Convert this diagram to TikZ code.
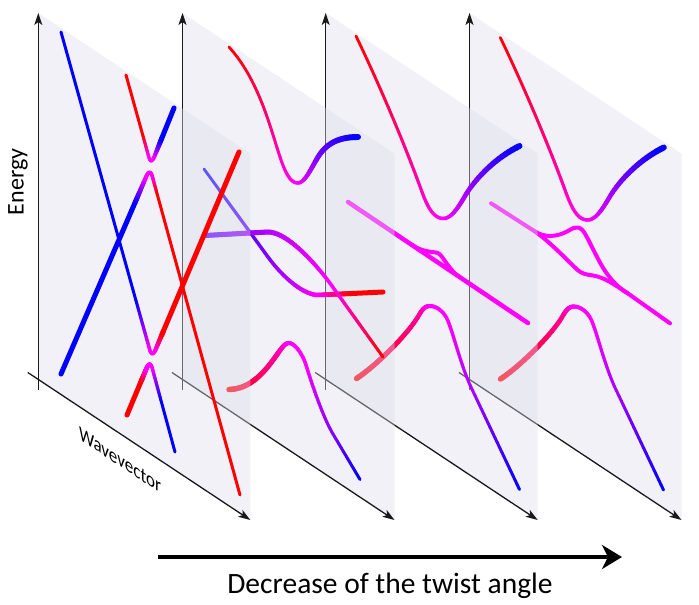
\documentclass[tikz,border=0pt]{standalone}
\usepackage{fontspec}
\setmainfont{Carlito}
\usetikzlibrary{arrows.meta,calc}
\definecolor{planeC}{RGB}{222,222,235}
\definecolor{pR}{RGB}{255,0,0}
\definecolor{pM}{RGB}{255,0,255}
\definecolor{pB}{RGB}{0,0,255}
\colorlet{rmA}{pM!60!pR}
\colorlet{rmB}{pM!75!pR}
\colorlet{mbA}{pB!30!pM}
\colorlet{mbB}{pB!50!pM}
\colorlet{mbC}{pB!70!pM}
\tikzset{
  axisline/.style={line width=1.3pt, black!90, -{Stealth[length=12pt,width=8pt,inset=3pt]}},
  planefill/.style={fill=planeC, fill opacity=0.4},
  band/.style={line cap=round, line join=round},
}
% gradient cubic: width1 width2 color1 color2 A B C D
\newcommand\gcurve[8]{%
  \foreach \k in {0,...,19}{%
    \pgfmathsetmacro\ta{\k/20}%
    \pgfmathsetmacro\tb{(\k+1)/20}%
    \pgfmathtruncatemacro\pc{5*\k+2.5}%
    \pgfmathsetmacro\lw{#1+(#2-#1)*(\k+0.5)/20}%
    \path #5 .. controls #6 and #7 .. #8 coordinate[pos=\ta] (gA) coordinate[pos=\tb] (gB);%
    \draw[band, line width=\lw pt, color=#4!\pc!#3] (gA) -- (gB);%
  }%
}
\newcommand\gline[6]{\gcurve{#1}{#2}{#3}{#4}{#5}{($#5!0.3333!#6$)}{($#5!0.6667!#6$)}{#6}}
\newcommand\bandline[3]{\draw[band, line width=#1pt, #2] #3;}
\newcommand\panelbase[1]{%
  \fill[planefill] (#1,13) -- (#1+212,153.6) -- (#1+212,520) -- (#1,379.5) -- cycle;
  \draw[axisline] (#1,390) -- (#1,13);
  \draw[axisline] (#1-10.5,372.5) -- (#1+212,520);
}
\newcommand\topcurve{%
  \gcurve{2.8}{3.2}{pR}{rmB}{(356,36)}{(380,86)}{(405,145)}{(422,192)}%
  \gcurve{3.2}{3.5}{rmB}{pM}{(422,192)}{(429,211)}{(435,218.5)}{(443.5,218.5)}%
  \gcurve{3.5}{4.5}{pM}{mbA}{(443.5,218.5)}{(451,218.5)}{(458,208)}{(465,196)}%
  \gcurve{4.5}{6}{mbA}{pB}{(465,196)}{(475,179)}{(495,158)}{(519.5,146)}%
}
\newcommand\lowcurve{%
  \gcurve{5.5}{4.5}{pR}{rmA}{(356.5,378.5)}{(376.5,365.5)}{(409,333)}{(419,315)}%
  \gcurve{4.5}{4}{rmA}{pM}{(419,315)}{(423,308)}{(426,306)}{(430,306)}%
  \gcurve{4}{3.5}{pM}{pM}{(430,306)}{(436,306)}{(444,311)}{(448,321)}%
  \gcurve{3.5}{3}{pM}{mbA}{(448,321)}{(454,336)}{(460,362)}{(470,385)}%
  \gline{3}{3}{mbA}{pB}{(470,385)}{(519.5,489.5)}%
}
\begin{document}
\begin{tikzpicture}[x=1pt,y=-1pt]
\fill[white] (0,0) rectangle (699,605);
\useasboundingbox (0,0) rectangle (699,605);

% ---------- panel 4 (back) ----------
\panelbase{469.5}
\begin{scope}[shift={(144.3,1.5)}]\topcurve\end{scope}
\begin{scope}[shift={(144,0.5)}]\lowcurve\end{scope}
\bandline{4}{pM}{(491,203.3) -- (535,231.5) .. controls (545,238) and (557,237) .. (568,231)
  .. controls (573,228) and (575,227) .. (578,227.5) .. controls (584,228.5) and (587,238) .. (594,251)
  .. controls (601,265) and (610,283) .. (628,293.5) -- (670,323.3)}
\bandline{4}{pM}{(535,231.5) .. controls (550,242) and (565,258) .. (577,269.5)
  .. controls (582,274) and (586,274.5) .. (593,275.5) .. controls (605,277.5) and (615,285) .. (628,293.5)}

% ---------- panel 3 ----------
\panelbase{325.7}
\topcurve
\lowcurve
\bandline{4.5}{pM}{(348,202) -- (528,323)}
\bandline{4}{pM}{(412,245) .. controls (422,251.7) and (430,251.5) .. (437,252.7)
  .. controls (442,254) and (446,265) .. (456,274.5)}

% ---------- panel 2 ----------
\panelbase{182.5}
% top
\gcurve{2.8}{3}{pR}{rmB}{(229,47)}{(259,80)}{(270.5,128.5)}{(280,157)}
\gcurve{3}{3.5}{rmB}{pM}{(280,157)}{(286,175)}{(291,183)}{(298,183)}
\gcurve{3.5}{5}{pM}{mbB}{(298,183)}{(305,183)}{(312,166.6)}{(318,157)}
\gcurve{5}{6}{mbB}{pB}{(318,157)}{(326,144)}{(338,137)}{(358,137)}
% middle A
\gline{2.8}{3.5}{pB}{mbB}{(204,169)}{(268,257)}
\gcurve{3.5}{4.5}{mbB}{pM}{(268,257)}{(282,276.3)}{(303,295)}{(318,295)}
\gline{4.5}{5}{pM}{pR}{(318,295)}{(352,293.5)}
\bandline{5}{pR}{(352,293.5) -- (383,292)}
% middle B
\gline{5}{5}{mbC}{mbA}{(205,235.5)}{(268,232)}
\gcurve{5}{3.5}{mbA}{pM}{(268,232)}{(288,232)}{(318,266.4)}{(332,286)}
\gline{3.5}{3}{pM}{pR}{(332,286)}{(383,357)}
% lower
\gcurve{5.5}{5}{pR}{rmA}{(229,389.5)}{(248,389)}{(262,376)}{(276,356)}
\gcurve{5}{4}{rmA}{pM}{(276,356)}{(282,347.5)}{(285,343)}{(289,343)}
\gcurve{4}{3.5}{pM}{pM}{(289,343)}{(295,343)}{(303,355)}{(306,365)}
\gcurve{3.5}{3}{pM}{mbB}{(306,365)}{(311,381.5)}{(323,417.5)}{(333,434)}
\gline{3}{3}{mbB}{pB}{(333,434)}{(360,479.5)}

% ---------- panel 1 (front) ----------
\panelbase{38.3}
% upper V
\bandline{3}{pR}{(126,75) -- (143,136)}
\gline{3}{3.3}{pR}{pM}{(143,136)}{(148.8,157)}
\gcurve{3.3}{3.8}{pM}{pM}{(148.8,157)}{(150.2,162)}{(151.8,162)}{(154.2,157)}
\gline{3.8}{5}{pM}{pB}{(154.2,157)}{(161.7,138.5)}
\bandline{5}{pB}{(161.7,138.5) -- (174,108)}
% upper Lambda
\bandline{5}{pB}{(61,374) -- (135.1,202.5)}
\gline{5}{4}{pB}{pM}{(135.1,202.5)}{(146.5,176)}
\gcurve{4}{3.5}{pM}{pM}{(146.5,176)}{(148.6,171.2)}{(150.9,171.2)}{(152.2,176)}
\gline{3.5}{3}{pM}{pR}{(152.2,176)}{(157,193.5)}
\bandline{3}{pR}{(157,193.5) -- (240,495)}
% lower V
\bandline{3}{pB}{(61,32) -- (136,300.7)}
\gline{3}{3.5}{pB}{pM}{(136,300.7)}{(149.8,350)}
\gcurve{3.5}{4}{pM}{pM}{(149.8,350)}{(151.1,354.8)}{(153.4,354.8)}{(155.4,350)}
\gline{4}{5}{pM}{pR}{(155.4,350)}{(163,332)}
\bandline{5}{pR}{(163,332) -- (239,152)}
% lower Lambda
\bandline{5}{pR}{(127,415) -- (141.2,381)}
\gline{5}{4.5}{pR}{pM}{(141.2,381)}{(146.7,368)}
\gcurve{4.5}{3.5}{pM}{pM}{(146.7,368)}{(148.7,363.2)}{(150.9,363.2)}{(152.2,368)}
\gline{3.5}{3}{pM}{pB}{(152.2,368)}{(161.4,402)}
\bandline{3}{pB}{(161.4,402) -- (175,452)}

% ---------- labels ----------
\node[rotate=90, font=\fontsize{24}{28}\selectfont] (energy) at (18,182) {Energy};
\node[yslant=-0.663, yscale=1.2, font=\fontsize{17}{20}\selectfont] (wavevector) at (120,460) {Wavevector};
\coordinate (arrS) at (158,557);
\coordinate (arrE) at (622,557);
\draw[line width=4pt, -{Stealth[length=20pt,width=24pt,inset=6pt]}] (arrS) -- (arrE);
\node[font=\fontsize{29.5}{34}\selectfont, anchor=base] (decrease) at (390,593) {Decrease of the twist angle};
\end{tikzpicture}
\end{document}
